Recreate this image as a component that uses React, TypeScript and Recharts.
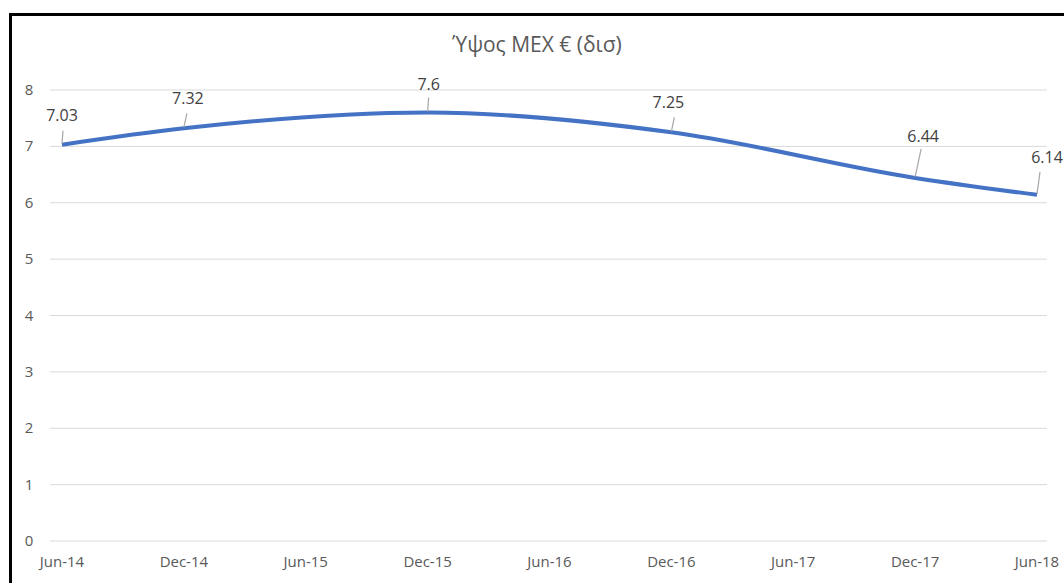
import { LineChart, Line, XAxis, YAxis, CartesianGrid, LabelList } from 'recharts';

// months counted from Jun-14
const months = [0, 6, 18, 30, 42, 48];
const values = [7.03, 7.32, 7.6, 7.25, 6.44, 6.14];
const tickMonths = [0, 6, 12, 18, 24, 30, 36, 42, 48];
const tickLabels = ['Jun-14', 'Dec-14', 'Jun-15', 'Dec-15', 'Jun-16', 'Dec-16', 'Jun-17', 'Dec-17', 'Jun-18'];
const yTicks = [0, 1, 2, 3, 4, 5, 6, 7, 8];

const data = months.map((m, i) => ({ month: m, value: values[i] }));

// label text offset (dx, dy) and leader line end (lx, ly) relative to the point
const labelOffsets = [
  { dx: 0, dy: -30, lx: 1, ly: -14 },
  { dx: 4, dy: -30, lx: 3, ly: -15 },
  { dx: 1, dy: -29, lx: 1, ly: -15 },
  { dx: -3, dy: -30, lx: 3, ly: -15 },
  { dx: 8, dy: -42, lx: 6, ly: -29 },
  { dx: 10, dy: -38, lx: 3, ly: -23 },
];

const FONT = '"Open Sans", sans-serif';

const XTick = (props: any) => {
  const { x, y, payload } = props;
  const idx = tickMonths.indexOf(payload.value);
  return (
    <text x={x} y={y + 18} textAnchor="middle" fontSize={15} fill="#595959" fontFamily={FONT}>
      {tickLabels[idx]}
    </text>
  );
};

const YTick = (props: any) => {
  const { y, payload } = props;
  return (
    <text x={29} y={y + 5} textAnchor="middle" fontSize={15} fill="#595959" fontFamily={FONT}>
      {payload.value}
    </text>
  );
};

const PointLabel = (props: any) => {
  const { x, y, index, value } = props;
  const o = labelOffsets[index];
  return (
    <g>
      <line x1={x} y1={y - 1} x2={x + o.lx} y2={y + o.ly} stroke="#A6A6A6" strokeWidth={1.2} />
      <text x={x + o.dx} y={y + o.dy + 6} textAnchor="middle" fontSize={16} fill="#404040" fontFamily={FONT}>
        {value}
      </text>
    </g>
  );
};

export default function App() {
  return (
    <div style={{ position: 'fixed', left: 0, top: 0, width: 1064, height: 583, overflow: 'hidden', background: '#fff' }}>
      <div
        style={{
          position: 'absolute',
          left: 9,
          top: 13,
          width: 1100,
          height: 640,
          border: '3px solid #000',
          boxSizing: 'border-box',
        }}
      />
      <div
        style={{
          position: 'absolute',
          left: 0,
          width: 1074,
          top: 29,
          textAlign: 'center',
          fontFamily: FONT,
          fontSize: 21,
          lineHeight: '30px',
          color: '#595959',
        }}
      >
        Ύψος ΜΕΧ € (δισ)
      </div>
      <div style={{ position: 'absolute', left: 0, top: 0 }}>
        <LineChart width={1064} height={583} data={data} margin={{ top: 90, right: 17, bottom: 12, left: 10 }}>
          <CartesianGrid vertical={false} stroke="#D9D9D9" strokeWidth={1} />
          <XAxis
            dataKey="month"
            type="number"
            domain={[0, 48]}
            ticks={tickMonths}
            padding={{ left: 12, right: 10 }}
            axisLine={false}
            tickLine={false}
            tick={<XTick />}
            height={30}
            interval={0}
          />
          <YAxis
            domain={[0, 8]}
            ticks={yTicks}
            axisLine={false}
            tickLine={false}
            tick={<YTick />}
            width={40}
            interval={0}
          />
          <Line
            type="monotone"
            dataKey="value"
            stroke="#4472C4"
            strokeWidth={4}
            dot={false}
            isAnimationActive={false}
          >
            <LabelList dataKey="value" content={<PointLabel />} />
          </Line>
        </LineChart>
      </div>
    </div>
  );
}
